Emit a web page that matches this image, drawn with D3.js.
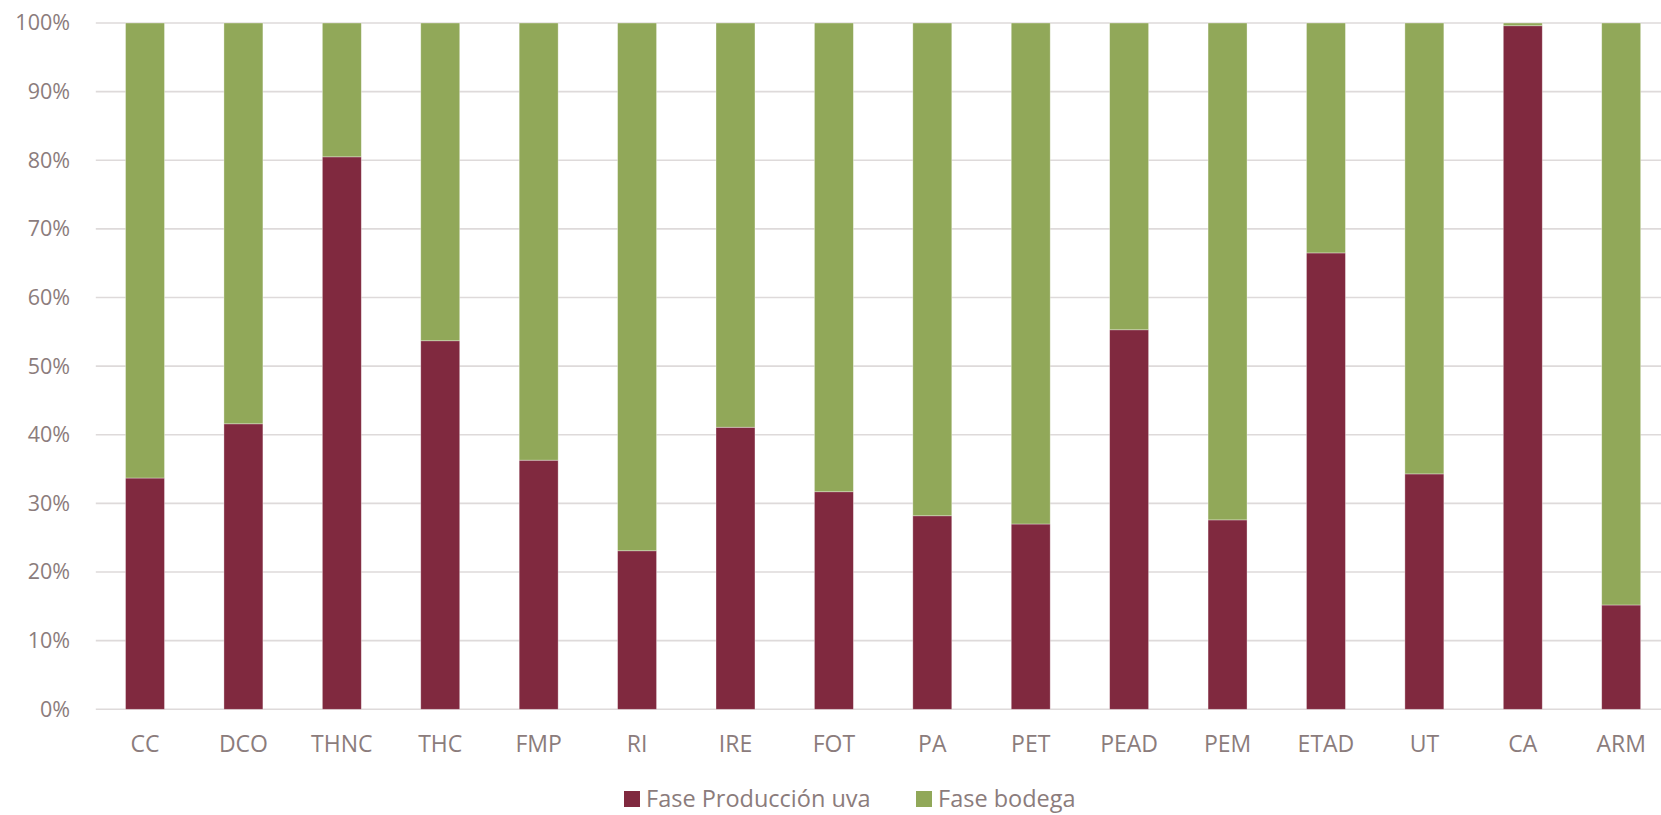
<!DOCTYPE html>
<html>
<head>
<meta charset="utf-8">
<script src="https://cdn.jsdelivr.net/npm/d3@7"></script>
<style>
  html, body { margin: 0; padding: 0; background: #ffffff; }
  svg { display: block; }
  text { font-family: "Open Sans", "Noto Sans", sans-serif; fill: #8b7c7c; }
</style>
</head>
<body>
<svg id="chart" width="1661" height="815"></svg>
<script>
// Categories along the x axis
const categories = ["CC", "DCO", "THNC", "THC", "FMP", "RI", "IRE", "FOT", "PA", "PET", "PEAD", "PEM", "ETAD", "UT", "CA", "ARM"];

// Share of each phase (percent); the two series add up to 100
const produccionUva = [33.7, 41.6, 80.5, 53.7, 36.3, 23.1, 41.1, 31.7, 28.2, 27.0, 55.3, 27.6, 66.5, 34.3, 99.6, 15.2];
const bodega = produccionUva.map(v => 100 - v);

const seriesNames = ["Fase Producción uva", "Fase bodega"];
const seriesColors = ["#80293f", "#91a859"];

// Y tick values (percent)
const yTicks = [0, 10, 20, 30, 40, 50, 60, 70, 80, 90, 100];

const svg = d3.select("#chart");

const margin = { left: 95.8, right: 1670.4, top: 23, bottom: 709.3 };

const x = d3.scaleBand()
  .domain(categories)
  .range([margin.left, margin.right])
  .paddingInner(0.604)
  .paddingOuter(0.302);

const y = d3.scaleLinear()
  .domain([0, 100])
  .range([margin.bottom, margin.top]);

// Horizontal gridlines
svg.append("g")
  .selectAll("line")
  .data(yTicks)
  .join("line")
  .attr("x1", margin.left)
  .attr("x2", margin.right)
  .attr("y1", d => y(d))
  .attr("y2", d => y(d))
  .attr("stroke", "#dedada")
  .attr("stroke-width", 1.6);

// Y axis labels
const yAxis = d3.axisLeft(y)
  .tickValues(yTicks)
  .tickFormat(d => d + "%")
  .tickSize(0)
  .tickPadding(0);

const yg = svg.append("g")
  .attr("transform", "translate(70,0)")
  .call(yAxis);
yg.select(".domain").remove();
yg.selectAll("text")
  .attr("font-size", 21.5)
  .attr("fill", "#8b7c7c")
  .attr("font-family", "'Open Sans', sans-serif");

// Stacked bars
const rows = categories.map((c, i) => ({ cat: c, uva: produccionUva[i], bodega: bodega[i] }));
const stack = d3.stack().keys(["uva", "bodega"]);
const layers = stack(rows);

svg.append("g")
  .selectAll("g")
  .data(layers)
  .join("g")
  .attr("fill", (d, i) => seriesColors[i])
  .selectAll("rect")
  .data(d => d)
  .join("rect")
  .attr("x", d => x(d.data.cat))
  .attr("width", x.bandwidth())
  .attr("y", d => y(d[1]))
  .attr("height", d => y(d[0]) - y(d[1]))
  .attr("stroke", "#ffffff")
  .attr("stroke-opacity", 0.45)
  .attr("stroke-width", 0.75);

// X axis labels
const xAxis = d3.axisBottom(x).tickSize(0).tickPadding(0);
const xg = svg.append("g")
  .attr("transform", "translate(0,744)")
  .call(xAxis);
xg.select(".domain").remove();
xg.selectAll("text")
  .attr("font-size", 23)
  .attr("fill", "#8b7c7c")
  .attr("font-family", "'Open Sans', sans-serif")
  .attr("dy", "0.36em");

// Legend
const legendX = [624, 916];
const legend = svg.append("g")
  .selectAll("g")
  .data(seriesNames)
  .join("g")
  .attr("transform", (d, i) => `translate(${legendX[i]},799)`);

legend.append("rect")
  .attr("x", 0)
  .attr("y", -8)
  .attr("width", 16)
  .attr("height", 16)
  .attr("fill", (d, i) => seriesColors[i]);

legend.append("text")
  .attr("x", 22)
  .attr("y", 0)
  .attr("dy", "0.34em")
  .attr("font-size", 23.5)
  .text(d => d);
</script>
</body>
</html>
